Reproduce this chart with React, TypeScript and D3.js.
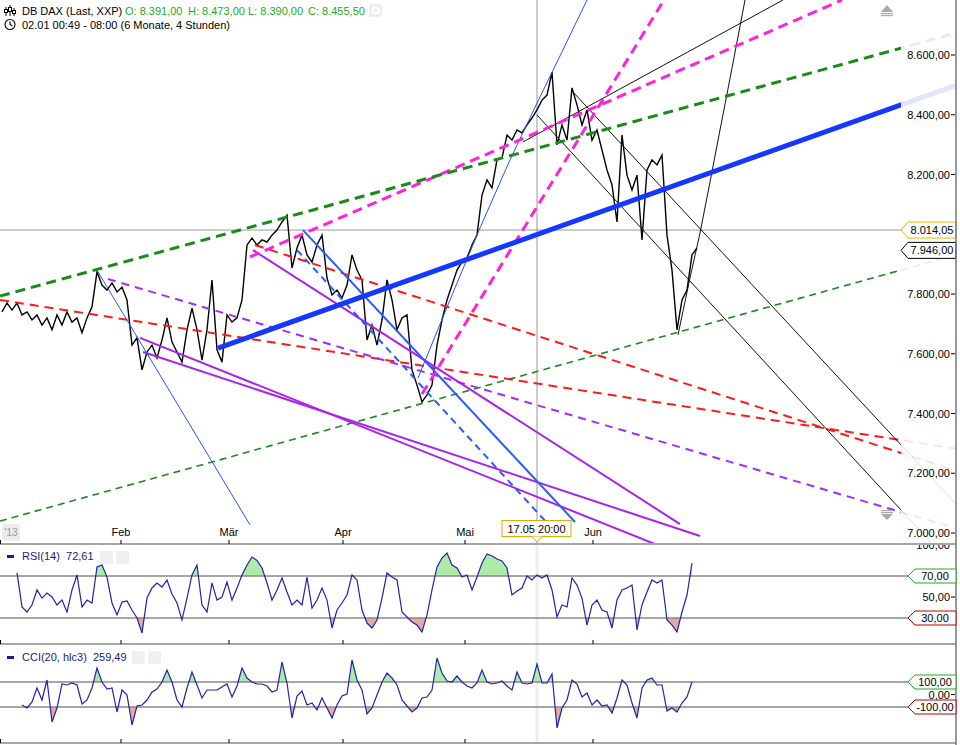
import * as d3 from 'd3';
import React from 'react';

// closing prices, one value per bar step (5px)
const closes = [
  7740, 7770, 7746, 7770, 7730, 7740, 7713, 7730, 7696, 7720,
  7680, 7730, 7696, 7740, 7706, 7720, 7670, 7720, 7757, 7874,
  7830, 7813, 7837, 7807, 7823, 7780, 7629, 7653, 7546, 7606,
  7629, 7586, 7646, 7720, 7639, 7606, 7572, 7680, 7753, 7680,
  7579, 7680, 7847, 7613, 7572, 7730, 7706, 7720, 7780, 7964,
  7987, 7964, 7981, 7974, 7997, 8014, 8041, 8064, 7887, 7954,
  7997, 7931, 7907, 7964, 7997, 7854, 7797, 7813, 7787, 7830,
  7931, 7880, 7847, 7646, 7696, 7629, 7713, 7847, 7780, 7680,
  7720, 7730, 7546, 7495, 7439, 7462, 7495, 7629, 7713, 7780,
  7830, 7880, 7907, 7921, 7964, 7997, 8131, 8182, 8155, 8249,
  8255, 8332, 8315, 8349, 8339, 8366, 8389, 8416, 8449, 8466,
  8543, 8299, 8366, 8315, 8490, 8433, 8366, 8416, 8315, 8349,
  8282, 8215, 8165, 8041, 8332, 8198, 8148, 8198, 7981, 8215,
  8249, 8232, 8265, 7997, 7880, 7680, 7780, 7813, 7931, 7954
];

const rsiStart = 3;
const rsi14 = [
  72.9, 40.5, 35.7, 42.4, 56.7, 49.0, 53.8, 50.0, 42.4, 47.1,
  35.7, 56.7, 71.0, 40.5, 47.1, 44.3, 78.6, 80.5, 69.0, 44.3,
  32.9, 45.2, 46.2, 37.6, 30.0, 15.7, 49.0, 58.6, 63.3, 59.5,
  66.2, 52.9, 44.3, 28.1, 49.0, 71.0, 80.5, 42.4, 35.7, 63.3,
  47.1, 50.0, 64.3, 47.1, 58.6, 71.0, 80.5, 88.1, 84.8, 77.6,
  63.3, 47.1, 56.7, 68.1, 54.8, 42.4, 47.1, 42.4, 69.0, 39.5,
  47.1, 58.6, 47.1, 20.5, 37.6, 44.3, 51.9, 71.0, 66.2, 37.6,
  25.2, 20.5, 28.1, 49.0, 72.9, 69.0, 66.2, 35.7, 31.0, 26.2,
  23.3, 16.7, 32.9, 56.7, 78.6, 87.1, 91.9, 80.5, 77.6, 69.0,
  71.0, 56.7, 69.0, 82.4, 91.0, 89.0, 86.2, 84.3, 77.6, 51.9,
  55.7, 58.6, 70.0, 66.2, 71.0, 68.1, 71.0, 56.7, 31.0, 42.4,
  40.5, 68.1, 61.4, 49.0, 23.3, 42.4, 47.1, 37.6, 35.7, 20.5,
  47.1, 56.7, 58.6, 61.4, 18.6, 42.4, 54.8, 66.2, 63.3, 66.2,
  28.1, 23.3, 16.7, 35.7, 51.9, 82.4
];

const cciStart = 4;
const cci20 = [
  -84, -108, -60, 52, -44, 116, -220, -108, 84, 76,
  92, 76, -76, -44, 52, 212, 100, 44, 52, -140,
  36, -4, -244, -92, -84, -44, 20, 44, 100, 196,
  100, -44, -100, 52, 180, 76, -28, 36, 36, 36,
  60, 84, -20, 68, 212, 132, 100, 84, 84, 68,
  20, 36, 260, 92, -188, -12, 28, -84, -68, -124,
  -28, -108, -188, -84, -12, 4, 276, 116, 36, -156,
  -108, -4, 100, 172, 132, 76, -44, -92, -140, -108,
  -28, -20, 36, 292, 172, 108, 100, 148, 100, 68,
  52, 92, 196, 100, 84, 92, 108, 68, 36, 180,
  92, 84, 92, 244, 92, 92, 164, -268, -108, -44,
  116, 84, -20, 12, -84, -44, -92, -84, -148, -28,
  116, 76, -68, -188, 52, 116, 132, 76, 76, -132,
  -108, -140, -68, -20, 100
];

const monthIdx = [23.8, 45.4, 68.2, 92.6, 118.2];
const monthLabels = ['Feb', 'Mär', 'Apr', 'Mai', 'Jun'];
const priceTicks = [7000, 7200, 7400, 7600, 7800, 8000, 8200, 8400, 8600];

const lastPrice = 7946;
const crossPrice = 8014.05;
const crossIdx = 107;

// drawn trendlines, anchors as [bar index, price]
const trendAnchors: Record<string, [number, number][]> = {
  greenThin: [[-0.4, 7040], [179.8, 7880]],
  redA: [[-0.4, 7780], [179.8, 7311]],
  redB: [[50.6, 7964], [179.8, 7268]],
  purpleDash: [[21.2, 7850], [179.8, 7070]],
  purple1: [[27.6, 7653], [130.6, 6963]],
  purple2: [[28.2, 7606], [139.6, 6990]],
  purple3: [[50.2, 7947], [135.6, 7030]],
  blueThin: [[19.2, 7874], [49.6, 7027]],
  blueSolid: [[60.2, 8014], [114.6, 7037]],
  blueDash: [[59, 7947], [109.2, 7030]],
  blueRise: [[83.2, 7519], [89.6, 7780], [95.6, 8021], [101.6, 8249], [107, 8439], [111.6, 8597], [117, 8784]],
  blackA: [[114.2, 8476], [179.8, 7295]],
  blackB: [[107, 8399], [179.8, 7077]],
  blackC: [[104.2, 8309], [156.2, 8784]],
  blackD: [[135.2, 7663], [137.6, 7854], [139.6, 8004], [141.6, 8175], [143.6, 8349], [146, 8556], [148.6, 8784]],
  magentaA: [[49.6, 7924], [168, 8784]],
  magentaB: [[84, 7465], [132.4, 8784]],
  greenThick: [[-0.4, 7793], [179.8, 8623]],
  blueThick: [[43.2, 7619], [179.8, 8433]]
};

const trendStyle: Record<string, { c: string; w: number; d?: string; ext?: boolean }> = {
  greenThin: { c: '#1a8a1a', w: 1.6, d: '7,5', ext: true },
  redA: { c: '#ff1a1a', w: 2, d: '9,6', ext: true },
  redB: { c: '#ff1a1a', w: 2, d: '9,6', ext: true },
  purpleDash: { c: '#a52aff', w: 2, d: '8,6', ext: true },
  purple1: { c: '#aa22f0', w: 2 },
  purple2: { c: '#aa22f0', w: 2 },
  purple3: { c: '#aa22f0', w: 2 },
  blueThin: { c: '#2255ff', w: 1 },
  blueSolid: { c: '#2a5cff', w: 2 },
  blueDash: { c: '#2a5cff', w: 2, d: '7,5' },
  blueRise: { c: '#2255ff', w: 1 },
  blackA: { c: '#111', w: 1, ext: true },
  blackB: { c: '#111', w: 1, ext: true },
  blackC: { c: '#111', w: 1 },
  blackD: { c: '#111', w: 1 },
  magentaA: { c: '#ff22dd', w: 3, d: '10,6' },
  magentaB: { c: '#ff22dd', w: 3, d: '10,6' },
  greenThick: { c: '#1a8a1a', w: 3, d: '10,6', ext: true },
  blueThick: { c: '#1438ff', w: 5, ext: true }
};

const fmt = d3
  .formatLocale({ decimal: ',', thousands: '.', grouping: [3], currency: ['', ''], minus: '-' })
  .format(',.2f');

const FONT = 'Liberation Sans, Arial, sans-serif';

export default function App() {
  const EDGE = 901; // bright drawing area ends here, paler beyond
  const AXIS = 956;
  const x = d3.scaleLinear().domain([0, 190.8]).range([2, AXIS]);
  const y = d3.scaleLinear().domain([7000, 8600]).range([533, 55]);
  const yR = d3.scaleLinear().domain([0, 100]).range([649.5, 544.5]);
  const yC = d3.scaleLinear().domain([-100, 100]).range([707, 682]);

  const priceLine = d3.line<number>().x((_, i) => x(i)).y((d) => y(d));
  const trendLine = d3.line<[number, number]>().x((d) => x(d[0])).y((d) => y(d[1]));
  const rsiLine = d3.line<number>().x((_, i) => x(i + rsiStart)).y((d) => yR(d));
  const cciLine = d3.line<number>().x((_, i) => x(i + cciStart)).y((d) => yC(d));
  const rsiArea = (th: number) =>
    d3.area<number>().x((_, i) => x(i + rsiStart)).y0(yR(th)).y1((d) => yR(d));
  const cciArea = (th: number) =>
    d3.area<number>().x((_, i) => x(i + cciStart)).y0(yC(th)).y1((d) => yC(d));

  const maxIdx = x.invert(AXIS);
  const extend = (pts: [number, number][]) => {
    const [a, b] = pts.slice(-2);
    const k = (b[1] - a[1]) / (b[0] - a[0]);
    return [...pts, [maxIdx, b[1] + k * (maxIdx - b[0])] as [number, number]];
  };

  const tag = (yc: number, h: number, tip: number) =>
    `M${tip},${yc} L${tip + 7},${yc - h / 2} L${AXIS},${yc - h / 2} L${AXIS},${yc + h / 2} L${tip + 7},${yc + h / 2} Z`;

  const panelBottoms = [544, 644, 743];
  const cx = x(crossIdx);

  return (
    <svg
      width={960}
      height={745}
      style={{ position: 'absolute', left: 0, top: 0, background: '#fff' }}
      fontFamily={FONT}
    >
      <defs>
        <clipPath id="main">
          <rect x={0} y={0} width={EDGE} height={543} />
        </clipPath>
        <clipPath id="pale">
          <rect x={EDGE} y={0} width={AXIS - EDGE} height={543} />
        </clipPath>
        <clipPath id="rsiTop">
          <rect x={0} y={545} width={AXIS} height={yR(70) - 545} />
        </clipPath>
        <clipPath id="rsiBot">
          <rect x={0} y={yR(30)} width={AXIS} height={643 - yR(30)} />
        </clipPath>
        <clipPath id="cciTop">
          <rect x={0} y={645} width={AXIS} height={yC(100) - 645} />
        </clipPath>
        <clipPath id="cciBot">
          <rect x={0} y={yC(-100)} width={AXIS} height={742 - yC(-100)} />
        </clipPath>
        <clipPath id="rsiPanel">
          <rect x={0} y={545} width={960} height={99} />
        </clipPath>
        <clipPath id="tickArea">
          <rect x={900} y={0} width={56} height={222} />
          <rect x={900} y={259} width={56} height={285} />
        </clipPath>
      </defs>

      {/* crosshair */}
      <line x1={cx} x2={cx} y1={0} y2={543} stroke="#999" strokeWidth={1} />
      <line x1={cx} x2={cx} y1={545} y2={743} stroke="#eee" strokeWidth={3} />
      <line x1={0} x2={EDGE} y1={y(crossPrice)} y2={y(crossPrice)} stroke="#999" strokeWidth={1} />

      {/* price */}
      <path d={priceLine(closes) ?? ''} fill="none" stroke="#000" strokeWidth={1.4} clipPath="url(#main)" />

      {/* trendlines */}
      {Object.keys(trendAnchors).map((k) => {
        const s = trendStyle[k];
        const pts = s.ext ? extend(trendAnchors[k]) : trendAnchors[k];
        const d = trendLine(pts) ?? '';
        return (
          <g key={k}>
            <path d={d} fill="none" stroke={s.c} strokeWidth={s.w} strokeDasharray={s.d} clipPath="url(#main)" />
            {s.ext && (
              <path
                d={d}
                fill="none"
                stroke={s.c}
                strokeOpacity={0.13}
                strokeWidth={s.w}
                strokeDasharray={s.d}
                clipPath="url(#pale)"
              />
            )}
          </g>
        );
      })}

      {/* scroll arrows */}
      <g fill="#aaa">
        <path d="M881,12 L887,5 L893,12 Z" />
        <rect x={881} y={13} width={12} height={1.2} />
        <rect x={881} y={15} width={12} height={1.2} />
        <rect x={881} y={510} width={12} height={1.2} />
        <rect x={881} y={512} width={12} height={1.2} />
        <path d="M881,514 L887,520 L893,514 Z" />
      </g>

      {/* right price axis, labels hidden where the price tags sit */}
      <g clipPath="url(#tickArea)">
        {priceTicks.map((p) => (
          <g key={p}>
            <text x={950} y={y(p) + 4} fontSize={11} textAnchor="end" fill="#000">
              {fmt(p)}
            </text>
            <line x1={951} x2={955} y1={y(p)} y2={y(p)} stroke="#000" />
          </g>
        ))}
      </g>
      <path d={tag(y(crossPrice), 16, 901)} fill="#fff" stroke="#f0b400" />
      <text x={932} y={y(crossPrice) + 4} fontSize={11} textAnchor="middle">
        {fmt(crossPrice)}
      </text>
      <path d={tag(y(lastPrice), 16, 901)} fill="#fff" stroke="#000" />
      <text x={932} y={y(lastPrice) + 4} fontSize={11} textAnchor="middle">
        {fmt(lastPrice)}
      </text>

      {/* header */}
      <g stroke="#000" strokeWidth={1}>
        <line x1={6} x2={6} y1={7} y2={16} />
        <line x1={10} x2={10} y1={5} y2={16} />
        <line x1={14} x2={14} y1={8} y2={16} />
      </g>
      <g fill="#fff" stroke="#000" strokeWidth={1}>
        <rect x={4.5} y={9.5} width={3} height={3} />
        <rect x={8.5} y={7.5} width={3} height={4} />
        <rect x={12.5} y={10.5} width={3} height={3} />
      </g>
      <text x={22} y={15} fontSize={11} fill="#000">
        DB DAX (Last, XXP)
      </text>
      <g fontSize={11} fill="#22aa22">
        <text x={125} y={15}>O: 8.391,00</text>
        <text x={188} y={15}>H: 8.473,00</text>
        <text x={248} y={15}>L: 8.390,00</text>
        <text x={308} y={15}>C: 8.455,50</text>
      </g>
      <rect x={369} y={4} width={13} height={13} rx={2} fill="#eee" />
      <circle cx={375.5} cy={10.5} r={3} fill="none" stroke="#fff" strokeWidth={2} />
      <circle cx={10} cy={24.5} r={5} fill="none" stroke="#000" strokeWidth={1.1} />
      <path d="M10,21.5 L10,24.5 L12.5,26" fill="none" stroke="#000" strokeWidth={1.1} />
      <text x={22} y={29} fontSize={11} fill="#000">
        02.01 00:49 - 08:00 (6 Monate, 4 Stunden)
      </text>

      {/* panel borders and month ticks */}
      {panelBottoms.map((b) => (
        <g key={b}>
          <line x1={0} x2={AXIS} y1={b} y2={b} stroke="#888" strokeWidth={1.5} />
          {monthIdx.map((m) => (
            <line key={m} x1={x(m)} x2={x(m)} y1={b - 4} y2={b} stroke="#000" strokeWidth={1} />
          ))}
          <line x1={0.5} x2={0.5} y1={b - 4} y2={b} stroke="#000" />
        </g>
      ))}
      <line x1={AXIS} x2={AXIS} y1={0} y2={745} stroke="#777" strokeWidth={1.5} />
      {monthIdx.map((m, i) => (
        <text key={m} x={x(m)} y={536} fontSize={11} textAnchor="middle" fill="#000">
          {monthLabels[i]}
        </text>
      ))}
      <rect x={2} y={524} width={18} height={17} rx={3} fill="#ececec" />
      <text x={11} y={536} fontSize={10} textAnchor="middle" fill="#999">
        '13
      </text>

      {/* time tooltip */}
      <rect x={502} y={520.5} width={69} height={16} fill="#fff" stroke="#e0aa00" />
      <path d={`M${cx - 5},536.5 L${cx},542 L${cx + 5},536.5`} fill="#fff" stroke="#e0aa00" />
      <text x={536.5} y={532.5} fontSize={11} textAnchor="middle">
        17.05 20:00
      </text>

      {/* RSI panel */}
      <path d={rsiArea(70)(rsi14) ?? ''} fill="#aeeaa8" clipPath="url(#rsiTop)" />
      <path d={rsiArea(30)(rsi14) ?? ''} fill="#e6aaa2" clipPath="url(#rsiBot)" />
      {[70, 30].map((v) => (
        <line key={v} x1={0} x2={AXIS} y1={yR(v)} y2={yR(v)} stroke="#888" strokeWidth={1.3} />
      ))}
      <path d={rsiLine(rsi14) ?? ''} fill="none" stroke="#2222b0" strokeWidth={1.2} />
      <rect x={7} y={555} width={7} height={3} fill="#1a1a99" />
      <text x={22} y={560} fontSize={11} fill="#1a1a80">
        RSI(14)&#160;&#160;72,61
      </text>
      <rect x={100} y={551} width={13} height={13} rx={2} fill="#f0f0f0" />
      <rect x={116} y={551} width={13} height={13} rx={2} fill="#f0f0f0" />
      <g clipPath="url(#rsiPanel)">
        <text x={950} y={yR(100) + 4} fontSize={11} textAnchor="end">
          {fmt(100)}
        </text>
      </g>
      <text x={950} y={yR(50) + 4} fontSize={11} textAnchor="end">
        {fmt(50)}
      </text>
      <line x1={951} x2={955} y1={yR(50)} y2={yR(50)} stroke="#000" />
      <path d={tag(yR(70), 14, 908)} fill="#fff" stroke="#22aa22" />
      <text x={935} y={yR(70) + 4} fontSize={11} textAnchor="middle">
        {fmt(70)}
      </text>
      <path d={tag(yR(30), 14, 908)} fill="#fff" stroke="#bb0000" />
      <text x={935} y={yR(30) + 4} fontSize={11} textAnchor="middle">
        {fmt(30)}
      </text>

      {/* CCI panel */}
      <path d={cciArea(100)(cci20) ?? ''} fill="#aeeaa8" clipPath="url(#cciTop)" />
      <path d={cciArea(-100)(cci20) ?? ''} fill="#e6aaa2" clipPath="url(#cciBot)" />
      {[100, -100].map((v) => (
        <line key={v} x1={0} x2={AXIS} y1={yC(v)} y2={yC(v)} stroke="#888" strokeWidth={1.3} />
      ))}
      <path d={cciLine(cci20) ?? ''} fill="none" stroke="#2222b0" strokeWidth={1.2} />
      <rect x={7} y={656} width={7} height={3} fill="#1a1a99" />
      <text x={22} y={661} fontSize={11} fill="#1a1a80">
        CCI(20, hlc3)&#160;&#160;259,49
      </text>
      <rect x={132} y={651} width={13} height={13} rx={2} fill="#f0f0f0" />
      <rect x={148} y={651} width={13} height={13} rx={2} fill="#f0f0f0" />
      <text x={950} y={yC(0) + 4} fontSize={11} textAnchor="end">
        {fmt(0)}
      </text>
      <line x1={951} x2={955} y1={yC(0)} y2={yC(0)} stroke="#000" />
      <path d={tag(yC(100), 14, 908)} fill="#fff" stroke="#22aa22" />
      <text x={935} y={yC(100) + 4} fontSize={11} textAnchor="middle">
        {fmt(100)}
      </text>
      <path d={tag(yC(-100), 14, 908)} fill="#fff" stroke="#bb0000" />
      <text x={935} y={yC(-100) + 4} fontSize={11} textAnchor="middle">
        {fmt(-100)}
      </text>
    </svg>
  );
}
